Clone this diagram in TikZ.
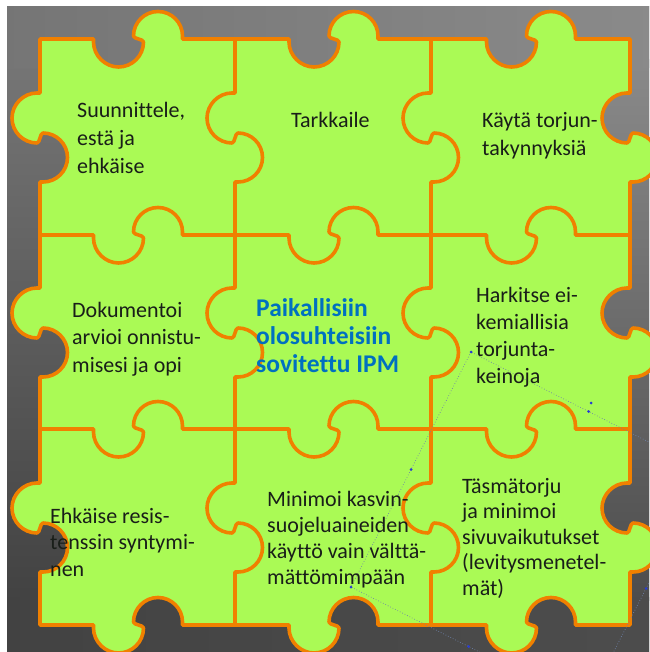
\documentclass[tikz,border=0pt]{standalone}
\usepackage{fontspec}
\setmainfont{Carlito}[Ligatures=CommonOff]
\definecolor{pzgreen}{RGB}{170,250,85}
\definecolor{pzorange}{RGB}{240,128,0}
\definecolor{pzblue}{RGB}{0,112,192}
\definecolor{pztext}{RGB}{25,30,25}
\definecolor{bgtop}{gray}{0.47}
\definecolor{bgmid}{gray}{0.40}
\definecolor{bgbot}{gray}{0.28}
\definecolor{bgtl}{gray}{0.46}
\definecolor{bgtr}{gray}{0.54}
\definecolor{bgrm}{gray}{0.70}
\definecolor{bgbl}{gray}{0.26}
\definecolor{bgbm}{gray}{0.34}
\definecolor{bgbr}{gray}{0.30}
\definecolor{selline}{RGB}{110,130,170}
\definecolor{seldot}{RGB}{40,60,210}
% horizontal S-edge, travelling right (first lobe down)
\newcommand{\pzHf}[2]{-- ({#1-44},#2) -- ({#1-44},{#2+3}) .. controls ({#1-44},{#2+16.8}) and ({#1-32.2},{#2+28}) .. ({#1-19},{#2+28}) .. controls ({#1-5.2},{#2+28}) and ({#1+6},{#2+16.8}) .. ({#1+6},{#2+3}) .. controls ({#1+6},{#2}) and ({#1-4},{#2}) .. ({#1-4},{#2-3}) .. controls ({#1-4},{#2-16.5}) and ({#1+7},{#2-27.5}) .. ({#1+20.5},{#2-27.5}) .. controls ({#1+34},{#2-27.5}) and ({#1+45},{#2-16.5}) .. ({#1+45},{#2-3}) -- ({#1+45},#2)}
% same edge, travelling left
\newcommand{\pzHr}[2]{-- ({#1+45},#2) -- ({#1+45},{#2-3}) .. controls ({#1+45},{#2-16.5}) and ({#1+34},{#2-27.5}) .. ({#1+20.5},{#2-27.5}) .. controls ({#1+7},{#2-27.5}) and ({#1-4},{#2-16.5}) .. ({#1-4},{#2-3}) .. controls ({#1-4},{#2}) and ({#1+6},{#2}) .. ({#1+6},{#2+3}) .. controls ({#1+6},{#2+16.8}) and ({#1-5.2},{#2+28}) .. ({#1-19},{#2+28}) .. controls ({#1-32.2},{#2+28}) and ({#1-44},{#2+16.8}) .. ({#1-44},{#2+3}) -- ({#1-44},#2)}
% vertical S-edge, travelling down (first lobe left)
\newcommand{\pzVf}[2]{-- (#1,{#2-44}) -- ({#1-3},{#2-44}) .. controls ({#1-16.8},{#2-44}) and ({#1-28},{#2-32.2}) .. ({#1-28},{#2-19}) .. controls ({#1-28},{#2-5.2}) and ({#1-16.8},{#2+6}) .. ({#1-3},{#2+6}) .. controls (#1,{#2+6}) and (#1,{#2-4}) .. ({#1+3},{#2-4}) .. controls ({#1+16.5},{#2-4}) and ({#1+27.5},{#2+7}) .. ({#1+27.5},{#2+20.5}) .. controls ({#1+27.5},{#2+34}) and ({#1+16.5},{#2+45}) .. ({#1+3},{#2+45}) -- (#1,{#2+45})}
% same edge, travelling up
\newcommand{\pzVr}[2]{-- (#1,{#2+45}) -- ({#1+3},{#2+45}) .. controls ({#1+16.5},{#2+45}) and ({#1+27.5},{#2+34}) .. ({#1+27.5},{#2+20.5}) .. controls ({#1+27.5},{#2+7}) and ({#1+16.5},{#2-4}) .. ({#1+3},{#2-4}) .. controls (#1,{#2-4}) and (#1,{#2+6}) .. ({#1-3},{#2+6}) .. controls ({#1-16.8},{#2+6}) and ({#1-28},{#2-5.2}) .. ({#1-28},{#2-19}) .. controls ({#1-28},{#2-32.2}) and ({#1-16.8},{#2-44}) .. ({#1-3},{#2-44}) -- (#1,{#2-44})}
\begin{document}
\begin{tikzpicture}[x=1pt,y=-1pt,
  edge/.style={draw=pzorange,line width=3.6pt,line join=round,line cap=round},
  txt/.style={anchor=north west,inner sep=0pt,align=left,text=pztext,font=\fontsize{22}{#1}\selectfont},
  ttl/.style={anchor=north west,inner sep=0pt,align=left,text=pzblue,font=\fontsize{25.5}{#1}\selectfont\bfseries},
  sel/.style={draw=selline,line width=0.7pt,dotted},
  handle/.style={circle,fill=seldot,inner sep=0pt,minimum size=3pt}]
\useasboundingbox (0,0) rectangle (649,652);
\fill[white] (0,0) rectangle (649,652);
% background
\shade[top color=bgtop,middle color=bgmid,bottom color=bgbot] (7,7) rectangle (649,652);
\shade[top color=bgtl,bottom color=bgbl] (7,60) rectangle (70,600);
\shade[top color=bgtr,middle color=bgrm,bottom color=bgbr] (600,60) rectangle (649,600);
\shade[left color=bgtl,right color=bgtr] (7,7) rectangle (649,68);
\shade[left color=bgbl,middle color=bgbm,right color=bgbr] (7,597) rectangle (649,652);
% puzzle outline
\path[fill=pzgreen,edge] (40,39) \pzHf{137.5}{39}\pzHf{333}{39}\pzHf{530.5}{39} -- (630,39)
  \pzVf{630}{137}\pzVf{630}{332}\pzVf{630}{527} -- (630,625)
  \pzHr{530.5}{625}\pzHr{333}{625}\pzHr{137.5}{625} -- (40,625)
  \pzVr{40}{527}\pzVr{40}{332}\pzVr{40}{137} -- cycle;
% inner seams
\draw[edge] (40,235) \pzHf{137.5}{235}\pzHf{333}{235}\pzHf{530.5}{235} -- (630,235);
\draw[edge] (40,429) \pzHf{137.5}{429}\pzHf{333}{429}\pzHf{530.5}{429} -- (630,429);
\draw[edge] (235,39) \pzVf{235}{137}\pzVf{235}{332}\pzVf{235}{527} -- (235,625);
\draw[edge] (431,39) \pzVf{431}{137}\pzVf{431}{332}\pzVf{431}{527} -- (431,625);
% selection frame artefact
\coordinate (sA) at (471,352);
\coordinate (sB) at (351,587);
\coordinate (sC) at (586,706);
\coordinate (sD) at (706,471);
\begin{scope}
\clip (0,0) rectangle (649,652);
\draw[sel] (sA) -- (sB) -- (sC) -- (sD) -- cycle;
\end{scope}
\node[handle] (h1) at (sA) {};
\node[handle] (h2) at (411,469.5) {};
\node[handle] (h3) at (sB) {};
\node[handle] (h4) at (468.5,646.5) {};
\node[handle] (h5) at (646,588.5) {};
\node[handle] (h6) at (588.5,411.5) {};
\node[handle] (h7) at (591,403) {};
% texts
\node[txt=28] (t00) at (77,97.4) {\strut Suunnittele,\\estä ja\\ehkäise};
\node[txt=27] (t01) at (291,108.1) {\strut Tarkkaile};
\node[txt=28] (t02) at (482,107.4) {\strut Käytä torjun-\\takynnyksiä};
\node[txt=27.5] (t10) at (72,297.75) {\strut Dokumentoi\\arvioi onnistu-\\misesi ja opi};
\node[ttl=28] (t11) at (256,296.4) {\strut Paikallisiin\\olosuhteisiin\\sovitettu IPM};
\node[txt=27] (t12) at (476,283.1) {\strut Harkitse ei-\\kemiallisia\\torjunta-\\keinoja};
\node[txt=26.5] (t20) at (50,504.45) {\strut Ehkäise resis-\\tenssin syntymi-\\nen};
\node[txt=26] (t21) at (267,487.8) {\strut Minimoi kasvin-\\suojeluaineiden\\käyttö vain välttä-\\mättömimpään};
\node[txt=25.5] (t22) at (462,475.15) {\strut Täsmätorju\\ja minimoi\\sivuvaikutukset\\(levitysmenetel-\\mät)};
\end{tikzpicture}
\end{document}
